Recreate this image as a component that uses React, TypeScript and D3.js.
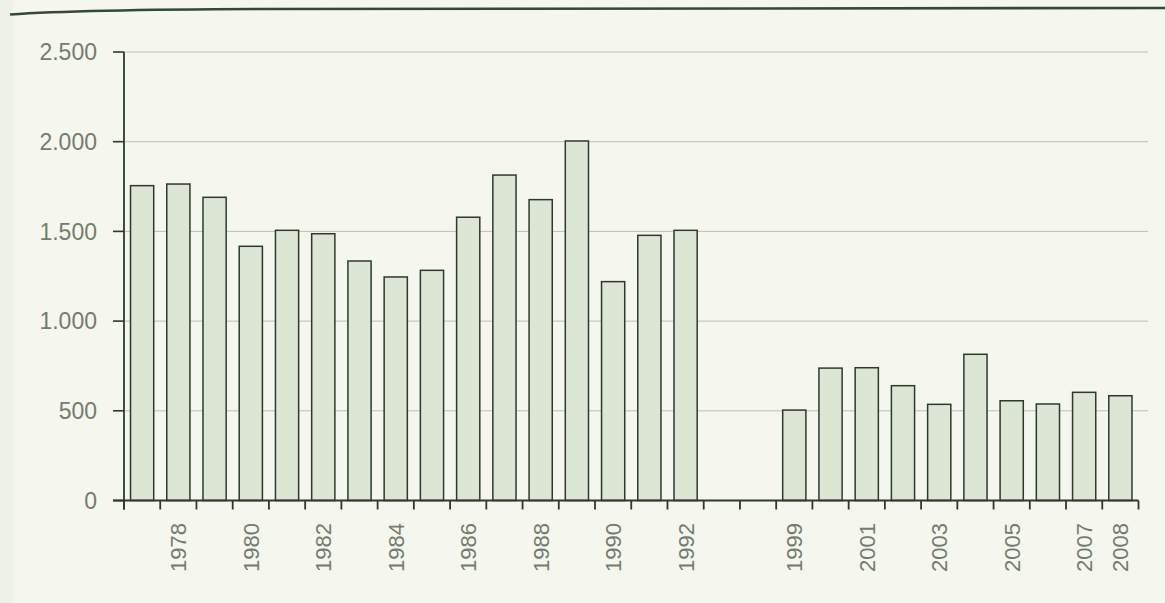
import React from "react";
import * as d3 from "d3";

const categories: string[] = [
  "1977", "1978", "1979", "1980", "1981", "1982", "1983", "1984", "1985", "1986",
  "1987", "1988", "1989", "1990", "1991", "1992", "gap1", "gap2",
  "1999", "2000", "2001", "2002", "2003", "2004", "2005", "2006", "2007", "2008",
];
const values: (number | null)[] = [
  1755, 1764, 1690, 1417, 1506, 1487, 1335, 1246, 1283, 1579,
  1814, 1677, 2004, 1220, 1478, 1506, null, null,
  504, 738, 740, 640, 536, 815, 556, 538, 603, 584,
];
const shownLabels: string[] = [
  "1978", "1980", "1982", "1984", "1986", "1988", "1990", "1992",
  "1999", "2001", "2003", "2005", "2007", "2008",
];
const yTicks: number[] = [0, 500, 1000, 1500, 2000, 2500];

const W = 1165;
const H = 603;
const left = 124;
const right = 1138.5;
const top = 52;
const bottom = 500.5;

const textColor = "#737c70";
const axisColor = "#2c3a2e";

export default function App() {
  const x = d3.scaleBand<string>().domain(categories).range([left, right]).paddingInner(0.36).paddingOuter(0.18);
  const y = d3.scaleLinear().domain([0, 2500]).range([bottom, top]);
  const step = x.step();
  const locale = d3.formatLocale({ decimal: ",", thousands: ".", grouping: [3], currency: ["", ""] });
  const fmt = locale.format(",d");

  const boundaries: number[] = categories.map((_, i) => left + i * step);
  boundaries.push(left + categories.length * step);

  return (
    <div style={{ position: "fixed", left: 0, top: 0 }}>
      <svg width={W} height={H} style={{ display: "block", background: "#f5f6ee" }}>
        <rect x={0} y={0} width={W} height={H} fill="#f5f6ee" />
        <rect x={0} y={0} width={14} height={H} fill="#eaeee3" opacity={0.5} />
        {/* header rule */}
        <path d="M10,14.5 C60,11 120,9.5 260,9 L1165,8" fill="none" stroke="#2f4a38" strokeWidth={2.6} />

        {/* grid */}
        {yTicks.filter((t) => t > 0).map((t) => (
          <line key={"g" + t} x1={left} x2={1148} y1={y(t)} y2={y(t)} stroke="#bcc0b5" strokeWidth={1} />
        ))}

        {/* bars */}
        {categories.map((c, i) =>
          values[i] == null ? null : (
            <rect
              key={c}
              x={x(c)!}
              y={y(values[i] as number)}
              width={x.bandwidth()}
              height={bottom - y(values[i] as number)}
              fill="#dde5d4"
              stroke={axisColor}
              strokeWidth={1.5}
            />
          )
        )}

        {/* y axis */}
        <line x1={left} x2={left} y1={top} y2={bottom + 9} stroke={axisColor} strokeWidth={1.8} />
        {yTicks.map((t) => (
          <g key={"y" + t}>
            <line x1={left - 11} x2={left} y1={y(t)} y2={y(t)} stroke={axisColor} strokeWidth={1.6} />
            <text
              x={97}
              y={y(t)}
              dy="0.36em"
              textAnchor="end"
              fontFamily="'Liberation Sans', Arial, sans-serif"
              fontSize={23}
              fill={textColor}
            >
              {fmt(t)}
            </text>
          </g>
        ))}

        {/* x axis */}
        <line x1={left - 11} x2={right} y1={bottom} y2={bottom} stroke={axisColor} strokeWidth={1.8} />
        {boundaries.map((b, i) => (
          <line key={"xt" + i} x1={b} x2={b} y1={bottom} y2={bottom + 9} stroke={axisColor} strokeWidth={1.8} />
        ))}
        {shownLabels.map((l) => {
          const cx = x(l)! + x.bandwidth() / 2;
          const ly = 523;
          return (
            <text
              key={"xl" + l}
              transform={`translate(${cx},${ly}) rotate(-90)`}
              dy="0.36em"
              textAnchor="end"
              fontFamily="'Liberation Sans', Arial, sans-serif"
              fontSize={22}
              fill={textColor}
            >
              {l}
            </text>
          );
        })}
      </svg>
    </div>
  );
}
